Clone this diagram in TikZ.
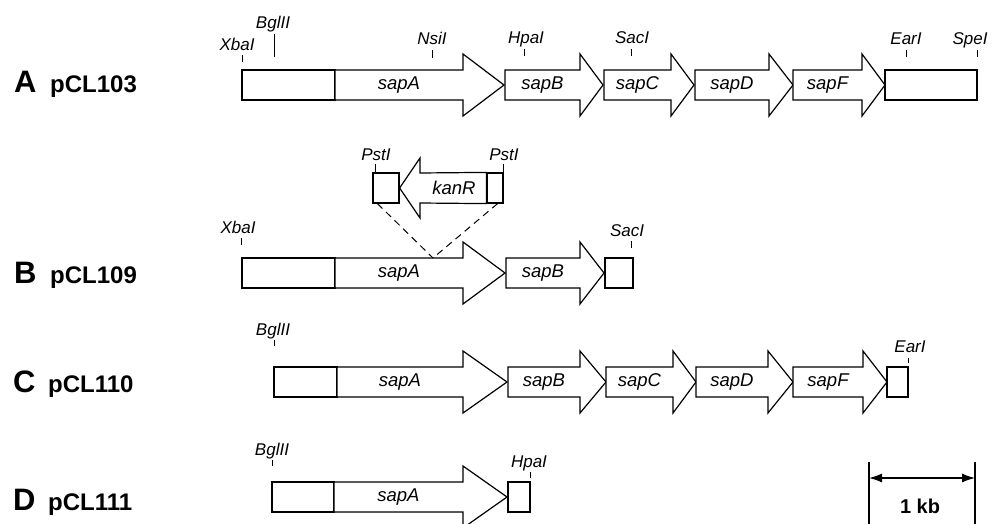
\documentclass[tikz,border=0pt]{standalone}
\usepackage{fontspec}
\setmainfont{Liberation Sans}
\usepackage{tikz}
\usetikzlibrary{arrows.meta,positioning}

\begin{document}
\begin{tikzpicture}[
      x=1pt, y=-1pt,
      gene/.style={draw, line width=1.2pt, line join=miter, fill=white},
      genelab/.style={font=\fontsize{18.5}{18.5}\selectfont\itshape},
      site/.style={font=\fontsize{17}{17}\selectfont\itshape, anchor=base, inner sep=0pt},
      sitetick/.style={line width=1pt},
      rowlet/.style={font=\fontsize{31}{31}\selectfont\bfseries, anchor=base west, inner sep=0pt},
      rowname/.style={font=\fontsize{24}{24}\selectfont\bfseries, anchor=base west, inner sep=0pt},
      ins/.style={dashed, dash pattern=on 7pt off 5pt, line width=1pt},
      arr/.style={{Latex[length=13pt,width=9pt]}-{Latex[length=13pt,width=9pt]}, line width=1.2pt},
    ]
    \useasboundingbox (0,0) rectangle (992,524);

    % row labels
    \node[rowlet] (letA) at (14,93) {A};
    \node[rowname] (nameA) at (50,93) {pCL103};
    \node[rowlet] (letB) at (14,283) {B};
    \node[rowname] (nameB) at (50,283) {pCL109};
    \node[rowlet] (letC) at (13,392) {C};
    \node[rowname] (nameC) at (48,392) {pCL110};
    \node[rowlet] (letD) at (13,510) {D};
    \node[rowname] (nameD) at (48,510) {pCL111};

    % plain (non-coding) boxes: left x / right x / row middle
    \foreach \xa/\xb/\yy in {242/335/85, 885/977/85, 242/335/273, 605/633/273,
                              274/337/382, 887/908/382, 272/334/497, 508/530/497}
      \draw[gene] (\xa,\yy-15) rectangle (\xb,\yy+15);

    % gene arrows: start / head base / tip / row middle / name
    \foreach \xs/\xb/\xt/\yy/\nm [count=\i] in {
        335/463/504/85/sapA, 505/580/603/85/sapB, 604/671/694/85/sapC,
        695/769/793/85/sapD, 793/862/885/85/sapF,
        335/463/505/273/sapA, 506/580/604/273/sapB,
        337/463/507/382/sapA, 508/580/606/382/sapB, 606/673/696/382/sapC,
        696/768/793/382/sapD, 793/863/887/382/sapF,
        334/463/507/497/sapA} {
      \draw[gene] (\xs,\yy-15) -- (\xb,\yy-15) -- (\xb,\yy-31) -- (\xt,\yy)
        -- (\xb,\yy+31) -- (\xb,\yy+15) -- (\xs,\yy+15) -- cycle;
      \node[genelab] (gene\i) at ({(\xs+\xb)/2},\yy) {\nm};
    }

    % restriction sites: tick x / label x / label base / tick top / tick bottom / name
    \foreach \xt/\xl/\yb/\ya/\yz/\nm [count=\i] in {
        242/237/51/55/62/XbaI, 274/273/29/34/57/BglII, 432/432/45/50/58/NsiI,
        524/526/44/49/56/HpaI, 631/632/44/49/56/SacI, 906/906/45/50/57/EarI,
        977/970/45/50/57/SpeI,
        375/376/160/164/172/PstI, 503/504/160/164/172/PstI,
        241/238/233/238/245/XbaI, 631/627/236/241/248/SacI,
        274/273/335/340/346/BglII, 908/910/352/358/363/EarI,
        272/272/455/460/466/BglII, 530/529/467/472/478/HpaI} {
      \draw[sitetick] (\xt,\ya) -- (\xt,\yz);
      \node[site] (site\i) at (\xl,\yb) {\nm};
    }

    % kanR cassette, inserted into sapA of pCL109
    \node[gene, minimum width=26pt, minimum height=30pt, inner sep=0pt] (pstL) at (386,188) {};
    \node[gene, minimum width=16pt, minimum height=30pt, inner sep=0pt] (pstR) at (495,188) {};
    \draw[gene] (pstR.north west) -- (420,173) -- (420,158) -- (pstL.east)
      -- (420,218) -- (420,203) -- (pstR.south west) -- cycle;
    \node[genelab] (kanR) at (454,188) {kanR};
    \coordinate (cut) at (433,258);
    \draw[ins] ([xshift=5pt]pstL.south west) -- (cut);
    \draw[ins] ([xshift=-6pt]pstR.south east) -- (cut);

    % scale bar
    \coordinate (barL) at (869,462);
    \coordinate (barR) at (975,462);
    \draw[line width=1.3pt] (barL) -- ++(0,70);
    \draw[line width=1.3pt] (barR) -- ++(0,70);
    \draw[arr] ([yshift=-16pt]barL) -- ([yshift=-16pt]barR);
    \node[font=\fontsize{20}{20}\selectfont\bfseries, anchor=base] (kb) at (920,513) {1 kb};
  \end{tikzpicture}
\end{document}
